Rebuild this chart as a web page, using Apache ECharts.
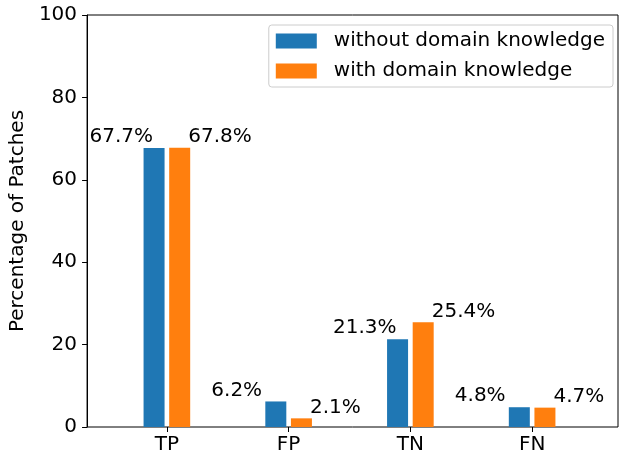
<!DOCTYPE html>
<html>
<head>
<meta charset="utf-8">
<script src="https://cdn.jsdelivr.net/npm/echarts@6/dist/echarts.min.js"></script>
<style>html,body{margin:0;padding:0;background:#fff}#c{width:619px;height:458px}</style>
</head>
<body>
<div id="c"></div>
<script>
const categories = ['TP', 'FP', 'TN', 'FN'];
const withoutDK = [67.7, 6.2, 21.3, 4.8];
const withDK = [67.8, 2.1, 25.4, 4.7];
const seriesNames = ['without domain knowledge', 'with domain knowledge'];
const yTicks = [0, 20, 40, 60, 80, 100];

const FONT = 'DejaVu Sans';
const FS = 20;
const chart = echarts.init(document.getElementById('c'), null, {renderer: 'canvas'});
const fmt = p => p.value.toFixed(1) + '%';
chart.setOption({
  animation: false,
  textStyle: {fontFamily: FONT},
  grid: [
    {left: 82, right: 1, top: 15, bottom: 31, show: true, borderColor: '#000', borderWidth: 1, backgroundColor: 'transparent'},
    {left: 106, right: 26, top: 15, bottom: 31}
  ],
  legend: {
    orient: 'vertical', right: 6, top: 25,
    icon: 'rect', itemWidth: 41, itemHeight: 15, itemGap: 10,
    padding: [6, 8, 6, 7],
    borderColor: '#cccccc', borderWidth: 1, borderRadius: 3,
    backgroundColor: 'rgba(255,255,255,0.8)',
    textStyle: {fontFamily: FONT, fontSize: FS, color: '#000', padding: [0, 0, 0, 12]},
    data: seriesNames
  },
  xAxis: [
    {gridIndex: 0, type: 'value', min: 0, max: 1, show: false},
    {gridIndex: 1, type: 'category', data: categories,
     axisLine: {show: false},
     axisTick: {show: true, alignWithLabel: true, length: 5, lineStyle: {color: '#000'}},
     axisLabel: {fontFamily: FONT, fontSize: FS, color: '#000', margin: 8}}
  ],
  yAxis: [
    {gridIndex: 0, type: 'value', min: yTicks[0], max: yTicks[yTicks.length - 1], interval: 20,
     name: 'Percentage of Patches', nameLocation: 'middle', nameGap: 55,
     nameTextStyle: {fontFamily: FONT, fontSize: FS, color: '#000'},
     axisLine: {show: true, lineStyle: {color: '#000'}},
     axisTick: {show: true, length: 5, lineStyle: {color: '#000'}},
     axisLabel: {fontFamily: FONT, fontSize: FS, color: '#000', margin: 10},
     splitLine: {show: false}},
    {gridIndex: 1, type: 'value', min: 0, max: 100, show: false, splitLine: {show: false}}
  ],
  series: [
    {name: seriesNames[0], type: 'bar', xAxisIndex: 1, yAxisIndex: 1, data: withoutDK,
     barWidth: 21, barGap: '22%', itemStyle: {color: '#1f77b4'},
     label: {show: true, position: [-54, 0], align: 'left', verticalAlign: 'bottom', offset: [0, -1],
       formatter: fmt, fontFamily: FONT, fontSize: FS, color: '#000'}},
    {name: seriesNames[1], type: 'bar', xAxisIndex: 1, yAxisIndex: 1, data: withDK,
     barWidth: 21, itemStyle: {color: '#ff7f0e'},
     label: {show: true, position: ['100%', 0], align: 'left', verticalAlign: 'bottom', offset: [-2, -1],
       formatter: fmt, fontFamily: FONT, fontSize: FS, color: '#000'}}
  ]
});
</script>
</body>
</html>
